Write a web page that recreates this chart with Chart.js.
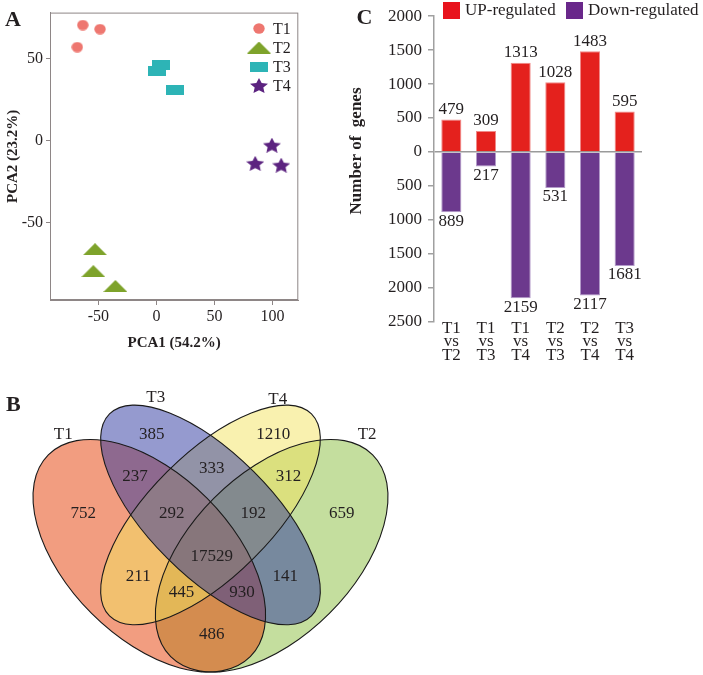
<!DOCTYPE html>
<html><head><meta charset="utf-8">
<script src="https://cdn.jsdelivr.net/npm/chart.js@4.4.1/dist/chart.umd.min.js"></script>
<style>
html,body{margin:0;padding:0;background:#fff;width:703px;height:675px;overflow:hidden}
canvas{position:absolute;display:block}
</style></head><body>
<canvas id="pca" width="340" height="360" style="left:0;top:0"></canvas>
<canvas id="deg" width="363" height="370" style="left:340px;top:0"></canvas>
<canvas id="venn" width="420" height="315" style="left:0;top:360px"></canvas>
<script>
// ---------- Panel A: PCA ----------
const pcaGroups = ['T1', 'T2', 'T3', 'T4'];
const t1X = [-63.4, -48.5, -68.1], t1Y = [70.7, 68.2, 57.2];
const t2X = [-52.8, -54.3, -35.3], t2Y = [-66.4, -79.8, -88.9];
const t3X = [0.6, 4.3, 15.7],      t3Y = [42.8, 46.4, 31.1];
const t4X = [99.5, 85.1, 107.5],   t4Y = [-2.8, -13.9, -15.0];
const pcaXTitle = 'PCA1 (54.2%)';
const pcaYTitle = 'PCA2 (23.2%)';

// ---------- Panel C: DEG counts ----------
const degCategories = [['T1','vs','T2'], ['T1','vs','T3'], ['T1','vs','T4'], ['T2','vs','T3'], ['T2','vs','T4'], ['T3','vs','T4']];
const upRegulated = [479, 309, 1313, 1028, 1483, 595];
const downRegulated = [889, 217, 2159, 531, 2117, 1681];
const degSeriesNames = ['UP-regulated', 'Down-regulated'];

// ---------- Panel B: Venn ----------
const vennSetNames = ['T1', 'T2', 'T3', 'T4'];
const vennRegions = ['T1', 'T3', 'T4', 'T2', 'T1&T3', 'T3&T4', 'T4&T2', 'T1&T3&T4', 'T3&T4&T2', 'T1&T2&T3&T4', 'T1&T4', 'T3&T2', 'T1&T4&T2', 'T1&T3&T2', 'T1&T2'];
const vennCounts = [752, 385, 1210, 659, 237, 333, 312, 292, 192, 17529, 211, 141, 445, 930, 486];

// ---------- layout (not data) ----------
const SERIF = '"Liberation Serif", "Times New Roman", serif';
const INK = '#231f20';
const vennLabelX = [0.188, 0.356, 0.654, 0.822, 0.315, 0.503, 0.691, 0.405, 0.605, 0.503, 0.323, 0.683, 0.429, 0.577, 0.503];
const vennLabelY = [0.574, 0.766, 0.766, 0.574, 0.664, 0.684, 0.664, 0.574, 0.574, 0.468, 0.419, 0.419, 0.379, 0.379, 0.276];
const vennSetLabelX = [0.139, 0.884, 0.366, 0.665];
const vennSetLabelY = [0.766, 0.766, 0.857, 0.852];
// ellipse geometry per set (T1, T2, T3, T4)
const vennCX = [0.35, 0.65, 0.5, 0.5];
const vennCY = [0.47, 0.47, 0.57, 0.57];
const vennA = [0.35, 0.35, 0.35, 0.35];
const vennB = [0.2, 0.2, 0.15, 0.15];
const vennRot = [Math.PI/4, -Math.PI/4, Math.PI/4, -Math.PI/4];
const vennFill = ['rgba(229,59,1,0.5)', 'rgba(137,189,61,0.5)', 'rgba(43,53,159,0.5)', 'rgba(243,227,95,0.5)'];
const vennOrder = [1, 0, 3, 2];

function marker(shape, color, w, h) {
  const c = document.createElement('canvas');
  c.width = w; c.height = h;
  const g = c.getContext('2d');
  g.fillStyle = color;
  g.beginPath();
  if (shape === 'circle') {
    g.ellipse(w/2, h/2, w/2 - 0.3, h/2 - 0.3, 0, 0, Math.PI*2);
  } else if (shape === 'triangle') {
    g.moveTo(w/2, 0); g.lineTo(w, h); g.lineTo(0, h); g.closePath();
  } else if (shape === 'rect') {
    g.rect(0, 0, w, h);
  } else if (shape === 'star') {
    const R = w / (2*Math.sin(2*Math.PI/5));
    const r = R * 0.48;
    const sy = h / (R*(1+Math.cos(Math.PI/5)));
    g.save();
    g.translate(w/2, R*sy);
    g.scale(1, sy);
    for (let k = 0; k < 10; k++) {
      const ang = -Math.PI/2 + k*Math.PI/5;
      const rr = k % 2 === 0 ? R : r;
      const px = rr*Math.cos(ang), py = rr*Math.sin(ang);
      if (k === 0) g.moveTo(px, py); else g.lineTo(px, py);
    }
    g.closePath();
    g.restore();
  }
  g.fill();
  return c;
}
const pcaMarkers = [
  marker('circle', '#ee7770', 12, 11),
  marker('triangle', '#7ea32b', 24, 12),
  marker('rect', '#2db4b6', 18, 10),
  marker('star', '#5c2380', 18, 15)
];

const pcaPoints = [[t1X, t1Y], [t2X, t2Y], [t3X, t3Y], [t4X, t4Y]];

const pcaDecor = {
  id: 'pcaDecor',
  afterDraw(chart) {
    const {ctx, chartArea: a} = chart;
    ctx.save();
    ctx.strokeStyle = '#8e8686';
    ctx.lineWidth = 1;
    ctx.strokeRect(a.left + 0.5, a.top + 0.5, a.right - a.left - 1, a.bottom - a.top - 1);
    // legend
    ctx.font = '16px ' + SERIF;
    ctx.fillStyle = INK;
    ctx.textBaseline = 'middle';
    ctx.textAlign = 'left';
    chart.data.datasets.forEach((ds, i) => {
      const y = 28.5 + i*19;
      const m = ds.pointStyle;
      ctx.drawImage(m, 259 - m.width/2, y - m.height/2);
      ctx.fillText(ds.label, 273, y + 1);
    });
    // panel letter
    ctx.font = 'bold 22px ' + SERIF;
    ctx.fillText('A', 5, 20);
    ctx.restore();
  }
};

new Chart(document.getElementById('pca'), {
  type: 'scatter',
  data: {
    datasets: pcaGroups.map((g, i) => ({
      label: g,
      data: pcaPoints[i][0].map((x, j) => ({x: x, y: pcaPoints[i][1][j]})),
      pointStyle: pcaMarkers[i],
      pointRadius: 6
    }))
  },
  options: {
    responsive: false,
    animation: false,
    layout: {padding: {top: 10, right: 41.7, left: 0, bottom: 0}},
    plugins: {legend: {display: false}, tooltip: {enabled: false}},
    scales: {
      x: {
        min: -91.6, max: 122.2,
        ticks: {stepSize: 50, includeBounds: false, font: {family: SERIF, size: 16}, color: INK, padding: 2, maxRotation: 0},
        grid: {drawOnChartArea: false, drawTicks: true, tickLength: 5, color: '#8e8686'},
        border: {display: true, color: '#8e8686'},
        title: {display: true, text: pcaXTitle, font: {family: SERIF, size: 15, weight: 'bold'}, color: INK, padding: {top: 0, bottom: 8}},
        afterFit: s => { s.height = 60; }
      },
      y: {
        min: -97.5, max: 78.3,
        ticks: {stepSize: 50, includeBounds: false, font: {family: SERIF, size: 16}, color: INK, padding: 3},
        grid: {drawOnChartArea: false, drawTicks: true, tickLength: 4, color: '#8e8686'},
        border: {display: true, color: '#8e8686'},
        title: {display: true, text: pcaYTitle, font: {family: SERIF, size: 15, weight: 'bold'}, color: INK, padding: {top: 4, bottom: 0}},
        afterFit: s => { s.width = 50; }
      }
    }
  },
  plugins: [pcaDecor]
});

// ---------- Panel C chart ----------
const degColors = ['#e4211d', '#6c398d'];
const degBorders = ['#f08a88', '#b39bc9'];
const degLegendColors = ['#e8131d', '#69278a'];
const degDecor = {
  id: 'degDecor',
  afterDatasetsDraw(chart) {
    const ctx = chart.ctx;
    ctx.save();
    ctx.font = '17px ' + SERIF;
    ctx.fillStyle = INK;
    ctx.textAlign = 'center';
    ctx.textBaseline = 'middle';
    chart.data.datasets.forEach((ds, di) => {
      chart.getDatasetMeta(di).data.forEach((bar, i) => {
        const v = ds.data[i];
        const y = v >= 0 ? bar.y - 10 : bar.y + 9;
        ctx.fillText(String(Math.abs(v)), bar.x, y);
      });
    });
    ctx.restore();
  },
  afterDraw(chart) {
    const ctx = chart.ctx;
    ctx.save();
    // legend
    ctx.font = '17px ' + SERIF;
    ctx.textBaseline = 'middle';
    ctx.textAlign = 'left';
    const lx = [103, 226];
    chart.data.datasets.forEach((ds, i) => {
      ctx.fillStyle = degLegendColors[i];
      ctx.fillRect(lx[i], 2, 17, 17);
      ctx.fillStyle = INK;
      ctx.fillText(ds.label, lx[i] + 22, 11);
    });
    // y title
    ctx.save();
    ctx.translate(16.7, 151);
    ctx.rotate(-Math.PI/2);
    ctx.textAlign = 'center';
    ctx.font = 'bold 17px ' + SERIF;
    ctx.fillText('Number of  genes', 0, 0);
    ctx.restore();
    // panel letter
    ctx.font = 'bold 22px ' + SERIF;
    ctx.textAlign = 'center';
    ctx.fillText('C', 24.5, 18);
    ctx.restore();
  }
};

new Chart(document.getElementById('deg'), {
  type: 'bar',
  data: {
    labels: degCategories,
    datasets: [
      {label: degSeriesNames[0], data: upRegulated, backgroundColor: degColors[0], borderColor: degBorders[0], borderWidth: 1},
      {label: degSeriesNames[1], data: downRegulated.map(v => -v), backgroundColor: degColors[1], borderColor: degBorders[1], borderWidth: 1}
    ]
  },
  options: {
    responsive: false,
    animation: false,
    layout: {padding: {top: 14.6, right: 61, left: 0, bottom: 0}},
    datasets: {bar: {barPercentage: 0.58, categoryPercentage: 1}},
    plugins: {legend: {display: false}, tooltip: {enabled: false}},
    scales: {
      x: {
        stacked: true,
        grid: {display: false, drawTicks: false},
        border: {display: false},
        ticks: {font: {family: SERIF, size: 17, lineHeight: '13.5px'}, color: INK, padding: 0, maxRotation: 0, autoSkip: false},
        afterFit: s => { s.height = 48.5; }
      },
      y: {
        stacked: true,
        min: -2500, max: 2000,
        ticks: {stepSize: 500, callback: v => Math.abs(v), font: {family: SERIF, size: 17}, color: INK, padding: 6},
        grid: {color: c => (c.tick && c.tick.value === 0) ? '#9a9a9a' : 'rgba(0,0,0,0)', lineWidth: 1.5, tickColor: '#a0a0a0', tickLength: 6, drawTicks: true},
        border: {display: true, color: '#a0a0a0', width: 1.5},
        afterFit: s => { s.width = 94; }
      }
    }
  },
  plugins: [degDecor]
});

// ---------- Panel B chart ----------
const vennDecor = {
  id: 'vennDecor',
  beforeDatasetsDraw(chart) {
    const ctx = chart.ctx;
    const xs = chart.scales.x, ys = chart.scales.y;
    const unit = xs.getPixelForValue(1) - xs.getPixelForValue(0);
    const path = i => {
      ctx.beginPath();
      ctx.ellipse(xs.getPixelForValue(vennCX[i]), ys.getPixelForValue(vennCY[i]), vennA[i]*unit, vennB[i]*unit, vennRot[i], 0, Math.PI*2);
    };
    ctx.save();
    vennOrder.forEach(i => { path(i); ctx.fillStyle = vennFill[i]; ctx.fill(); });
    ctx.strokeStyle = '#1a1a1a';
    ctx.lineWidth = 1.1;
    vennOrder.forEach(i => { path(i); ctx.stroke(); });
    ctx.restore();
  },
  afterDatasetsDraw(chart) {
    const ctx = chart.ctx;
    ctx.save();
    ctx.font = '17px ' + SERIF;
    ctx.fillStyle = INK;
    ctx.textAlign = 'center';
    ctx.textBaseline = 'middle';
    chart.getDatasetMeta(0).data.forEach((pt, i) => ctx.fillText(String(vennCounts[i]), pt.x, pt.y));
    chart.getDatasetMeta(1).data.forEach((pt, i) => ctx.fillText(vennSetNames[i], pt.x, pt.y));
    ctx.font = 'bold 22px ' + SERIF;
    ctx.textAlign = 'left';
    ctx.fillText('B', 6, 45);
    ctx.restore();
  }
};

new Chart(document.getElementById('venn'), {
  type: 'scatter',
  data: {
    datasets: [
      {label: 'regions', data: vennCounts.map((c, i) => ({x: vennLabelX[i], y: vennLabelY[i]})), pointRadius: 0},
      {label: 'sets', data: vennSetNames.map((s, i) => ({x: vennSetLabelX[i], y: vennSetLabelY[i]})), pointRadius: 0}
    ]
  },
  options: {
    responsive: false,
    animation: false,
    layout: {padding: 0},
    plugins: {legend: {display: false}, tooltip: {enabled: false}},
    scales: {
      x: {display: false, min: -0.0159, max: 1.0135},
      y: {display: false, min: 0.1777, max: 0.9498}
    }
  },
  plugins: [vennDecor]
});
</script>
</body></html>
